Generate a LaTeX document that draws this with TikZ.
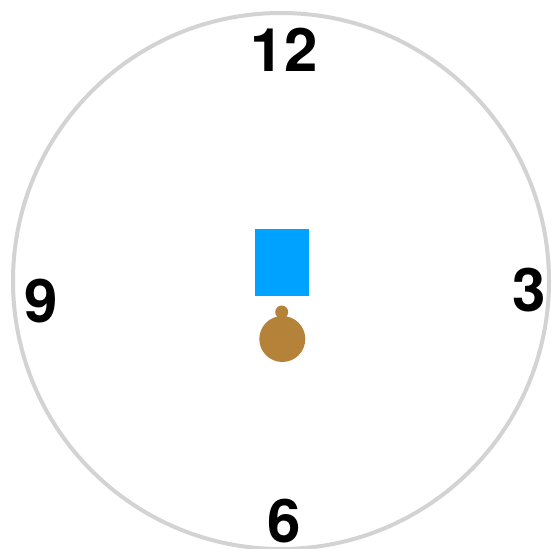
\documentclass[tikz,border=0pt]{standalone}
\usepackage{fontspec}
\setmainfont{TeX Gyre Heros}
\definecolor{rim}{HTML}{D3D3D3}
\definecolor{blueblock}{HTML}{00A2FF}
\definecolor{bob}{HTML}{B5823A}
\begin{document}
\begin{tikzpicture}[x=1pt,y=-1pt,
  numeral/.style={inner sep=0pt, font=\fontsize{60}{60}\selectfont\bfseries}]
\useasboundingbox (0,0) rectangle (552,549);
\node[circle, draw=rim, line width=4pt, minimum size=536pt, inner sep=0pt] (dial) at (281,281) {};
\node[numeral] (n12) at (284,50) {12};
\node[numeral] (n3) at (529,290) {3};
\node[numeral] (n6) at (284,521) {6};
\node[numeral] (n9) at (41,301) {9};
\node[rectangle, fill=blueblock, minimum width=54pt, minimum height=67pt, inner sep=0pt] (block) at (282,262.5) {};
\node[circle, fill=bob, minimum size=13pt, inner sep=0pt] (knob) at (281.7,312) {};
\node[circle, fill=bob, minimum size=46pt, inner sep=0pt] (ball) at (282.3,339) {};
\end{tikzpicture}
\end{document}
